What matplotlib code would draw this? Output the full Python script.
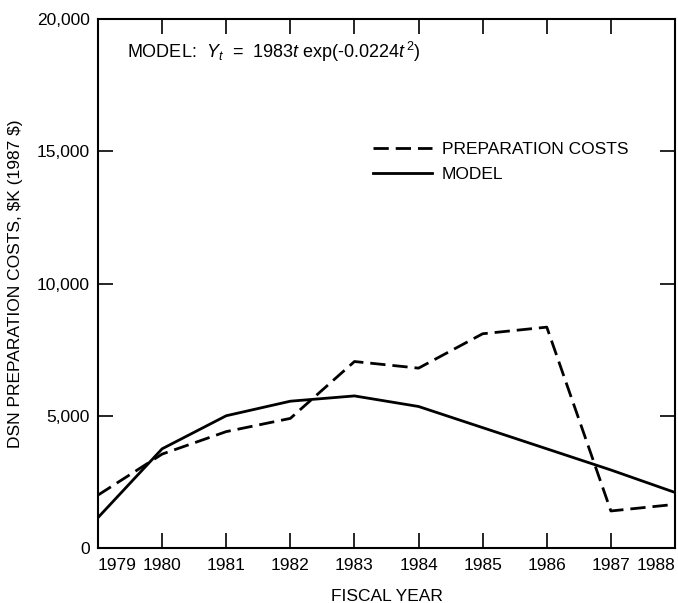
import matplotlib
matplotlib.use("Agg")
import matplotlib.pyplot as plt

years = [1979, 1980, 1981, 1982, 1983, 1984, 1985, 1986, 1987, 1988]
prep_costs = [2000, 3550, 4400, 4900, 7050, 6800, 8100, 8350, 1400, 1650]
model = [1150, 3750, 5000, 5550, 5750, 5350, 4550, 3750, 2950, 2100]
yticks = [0, 5000, 10000, 15000, 20000]
ytick_labels = ["0", "5,000", "10,000", "15,000", "20,000"]

plt.rcParams['font.family'] = ['Liberation Sans', 'DejaVu Sans']
plt.rcParams['mathtext.fontset'] = 'custom'
plt.rcParams['mathtext.rm'] = 'Liberation Sans'
plt.rcParams['mathtext.it'] = 'Liberation Sans:italic'
plt.rcParams['font.size'] = 12.5

fig = plt.figure(figsize=(6.78, 6.03), dpi=100)
ax = fig.add_axes([98/678, 1 - 548/603, 577/678, 529/603])

ax.plot(years, prep_costs, color='black', lw=2.0, dashes=(5.5, 2.5),
        label='PREPARATION COSTS')
ax.plot(years, model, color='black', lw=2.0, label='MODEL')

ax.set_xlim(1979, 1988)
ax.set_ylim(0, 20000)
ax.set_xticks(years)
ax.set_xticklabels([str(y) for y in years])
ax.set_yticks(yticks)
ax.set_yticklabels(ytick_labels)

ax.tick_params(axis='both', direction='in', length=11, width=1.2,
               top=True, right=True, labelsize=12.5)
ax.tick_params(axis='x', pad=7)
ax.tick_params(axis='y', pad=6)
labels = ax.get_xticklabels()
labels[0].set_horizontalalignment('left')
labels[-1].set_horizontalalignment('right')
for t in (ax.xaxis.get_major_ticks()[0], ax.xaxis.get_major_ticks()[-1]):
    t.tick1line.set_visible(False)
    t.tick2line.set_visible(False)
for t in (ax.yaxis.get_major_ticks()[0], ax.yaxis.get_major_ticks()[-1]):
    t.tick1line.set_visible(False)
    t.tick2line.set_visible(False)

for s in ax.spines.values():
    s.set_linewidth(1.5)

ax.set_xlabel('FISCAL YEAR', labelpad=12)
ax.set_ylabel(r'DSN PREPARATION COSTS, \$K (1987 \$)', labelpad=10)

ax.text(0.05, 0.937, r"MODEL:  $Y_t$  =  1983$t$ exp(-0.0224$t^{\,2}$)",
        transform=ax.transAxes, ha='left', va='center', fontsize=13)

ax.legend(loc='upper left', bbox_to_anchor=(0.477, 0.768), frameon=False,
          borderpad=0, borderaxespad=0, handlelength=3.4, handletextpad=0.55,
          labelspacing=0.55, fontsize=12.5)

fig.savefig('out.png', dpi=100)
